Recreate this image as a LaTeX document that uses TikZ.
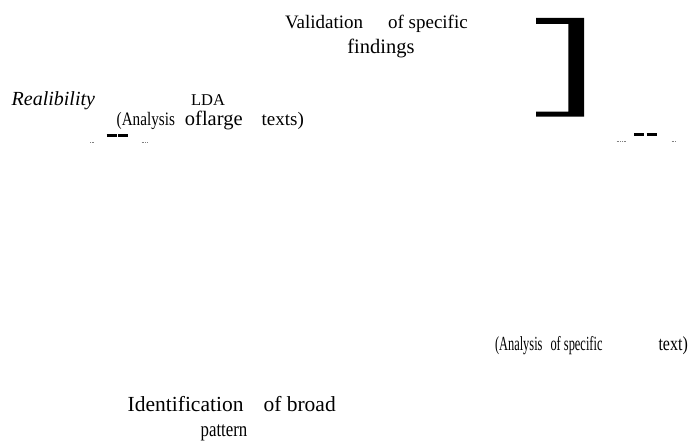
\documentclass[tikz,border=0pt]{standalone}
\usepackage{fontspec}
\setmainfont{Liberation Serif}
\newfontfamily\narrowserif[FakeStretch=0.62]{Liberation Serif}
\newfontfamily\slimserif[FakeStretch=0.8]{Liberation Serif}
\usetikzlibrary{positioning}

\begin{document}
\begin{tikzpicture}[
                x = 1pt, y = -1pt,
                every node/.style = {inner sep = 0pt, outer sep = 0pt, anchor = base west},
                txt/.style = {font = \fontsize{19}{23}\selectfont},
                bigtxt/.style = {font = \fontsize{21.5}{26}\selectfont},
                dashpair/.style = {line width = 2.4pt},
                dotrun/.style = {gray, line width = 1pt, dash pattern = on 1pt off 0.7pt}
                ]
              \useasboundingbox (0,0) rectangle (692,441);

              % Bracket
              \fill (536,18) -- (584,18) -- (584,116.7) -- (536,116.7) -- (536,111.7)
                -- (568.3,111.7) -- (568.3,24) -- (536,24) -- cycle;

              % Labels
              \begin{scope}[txt]
                \node (valid) at (285,28.3) {Validation\hspace{25pt}of specific};
                \node [anchor = base, font = \fontsize{20.5}{24}\selectfont]
                      (find) at (381,53.3) {findings};
                \node [font = \fontsize{20}{24}\selectfont\itshape]
                      (relia) at (11.7,105.7) {Realibility};
                \node [anchor = base, font = \fontsize{16.5}{20}\selectfont]
                      (lda) at (208,106) {LDA};
                \node (large) at (116.7,125.5)
                      {{\slimserif(Analysis}\hspace{10pt}{\fontsize{20.5}{24}\selectfont oflarge}\hspace{19pt}texts)};
                \node [font = \fontsize{20}{24}\selectfont] (spec) at (495,350.7)
                      {\narrowserif(Analysis\hspace{8pt}of specific\hspace{56pt}{\slimserif text)}};
                \node [bigtxt] (ident) at (127.7,411.7) {Identification\hspace{20pt}of broad};
                \node [anchor = base, font = \fontsize{21}{25}\selectfont\slimserif]
                      (patt) at (224,436.7) {pattern};
              \end{scope}

              % Dash marks
              \draw[dashpair] (106.7,135.5) -- (116.7,135.5) (118.3,135.5) -- (128.3,135.5);
              \draw[dashpair] (634.3,134.5) -- (644.3,134.5) (646.7,134.5) -- (656.7,134.5);
              \draw[dotrun] (90,142.7) -- (94,142.7) (141.7,142.7) -- (148.3,142.7);
              \draw[dotrun] (616.7,141.3) -- (626,141.3) (671.7,141.3) -- (676.7,141.3);
            \end{tikzpicture}
\end{document}
